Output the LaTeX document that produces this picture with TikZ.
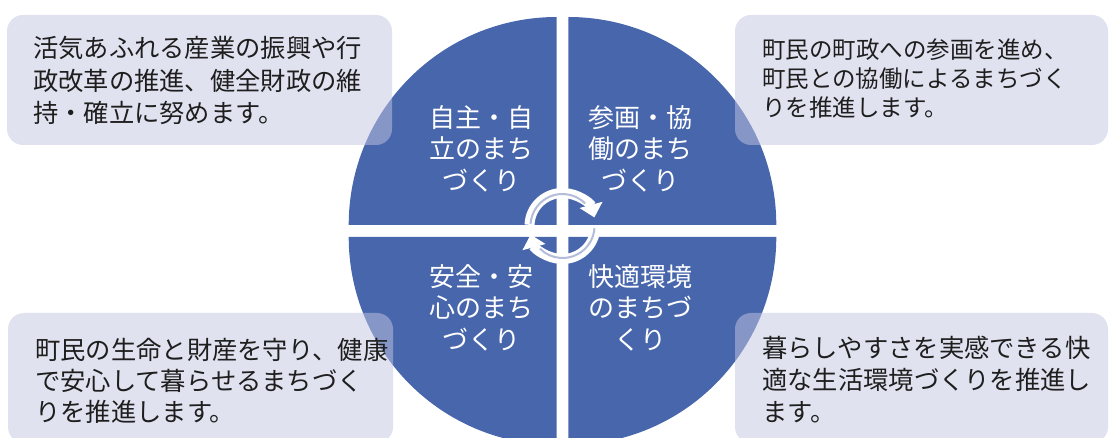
\documentclass[tikz,border=0pt]{standalone}
\usepackage{fontspec}
\usepackage{tikz}
\usetikzlibrary{arrows.meta}
\newfontfamily\jpfont{Noto Sans CJK JP}
\definecolor{quadblue}{RGB}{72,102,172}
\definecolor{boxlav}{RGB}{196,198,226}
\definecolor{arrowgray}{RGB}{180,188,218}
\definecolor{boxtext}{RGB}{30,30,30}

\begin{document}
\begin{tikzpicture}[x=1pt,y=1pt,
  quadlabel/.style={text=white, font=\jpfont\fontsize{26}{31.5}\selectfont, align=center, inner sep=0pt},
  boxlabel/.style={text=boxtext, font=\jpfont\fontsize{25.3}{32.5}\selectfont, align=left, anchor=west, inner sep=0pt},
  notebox/.style={fill=boxlav, fill opacity=0.5, rounded corners=16pt},
  cyclearrow/.style={white, line width=10pt, -{Triangle[width=23pt,length=13pt]}},
  cycleline/.style={arrowgray, line width=2pt}]
\useasboundingbox (0,0) rectangle (1109,-438);
\clip (0,0) rectangle (1109,-438);
% four quarters of the circle
\fill [quadblue] (556.7,-225) -- (348.7,-225) arc (180:90:208) -- cycle;
\fill [quadblue] (568.3,-225) -- (568.3,-17) arc (90:0:208) -- cycle;
\fill [quadblue] (556.7,-237) -- (348.7,-237) arc (180:270:208) -- cycle;
\fill [quadblue] (568.3,-237) -- (776.3,-237) arc (0:-90:208) -- cycle;
% corner boxes
\fill [notebox] (7,-15) rectangle (392,-145);
\fill [notebox] (735,-15) rectangle (1108,-145);
\fill [notebox] (8,-313) rectangle (393,-443);
\fill [notebox] (735,-313) rectangle (1108,-443);
\node [boxlabel] (vitality) at (33,-80.5) {活気あふれる産業の振興や行\\政改革の推進、健全財政の維\\持・確立に努めます。};
\node [boxlabel, font=\jpfont\fontsize{23.5}{29}\selectfont] (participation) at (762,-78.5) {町民の町政への参画を進め、\\町民との協働によるまちづく\\りを推進します。};
\node [boxlabel, font=\jpfont\fontsize{25.3}{31}\selectfont] (safety) at (35,-381) {町民の生命と財産を守り、健康\\で安心して暮らせるまちづく\\りを推進します。};
\node [boxlabel, font=\jpfont\fontsize{25.3}{32}\selectfont] (comfort) at (762,-380) {暮らしやすさを実感できる快\\適な生活環境づくりを推進し\\ます。};
% quarter labels
\node [quadlabel] (selfreliance) at (481.5,-148.8) {自主・自\\立のまち\\づくり};
\node [quadlabel] (cooperation) at (640.5,-148.8) {参画・協\\働のまち\\づくり};
\node [quadlabel] (security) at (481.7,-307.8) {安全・安\\心のまち\\づくり};
\node [quadlabel] (amenity) at (640.5,-307.8) {快適環境\\のまちづ\\くり};
% cycle arrows
\coordinate (hub) at (562.5,-226);
\draw [cyclearrow] (hub) ++(178:33) arc (178:15:33);
\draw [cycleline] (hub) ++(176:32) arc (176:45:32);
\draw [cyclearrow] (hub) ++(-2:33) arc (-2:-165:33);
\draw [cycleline] (hub) ++(-4:32) arc (-4:-135:32);
\end{tikzpicture}
\end{document}
